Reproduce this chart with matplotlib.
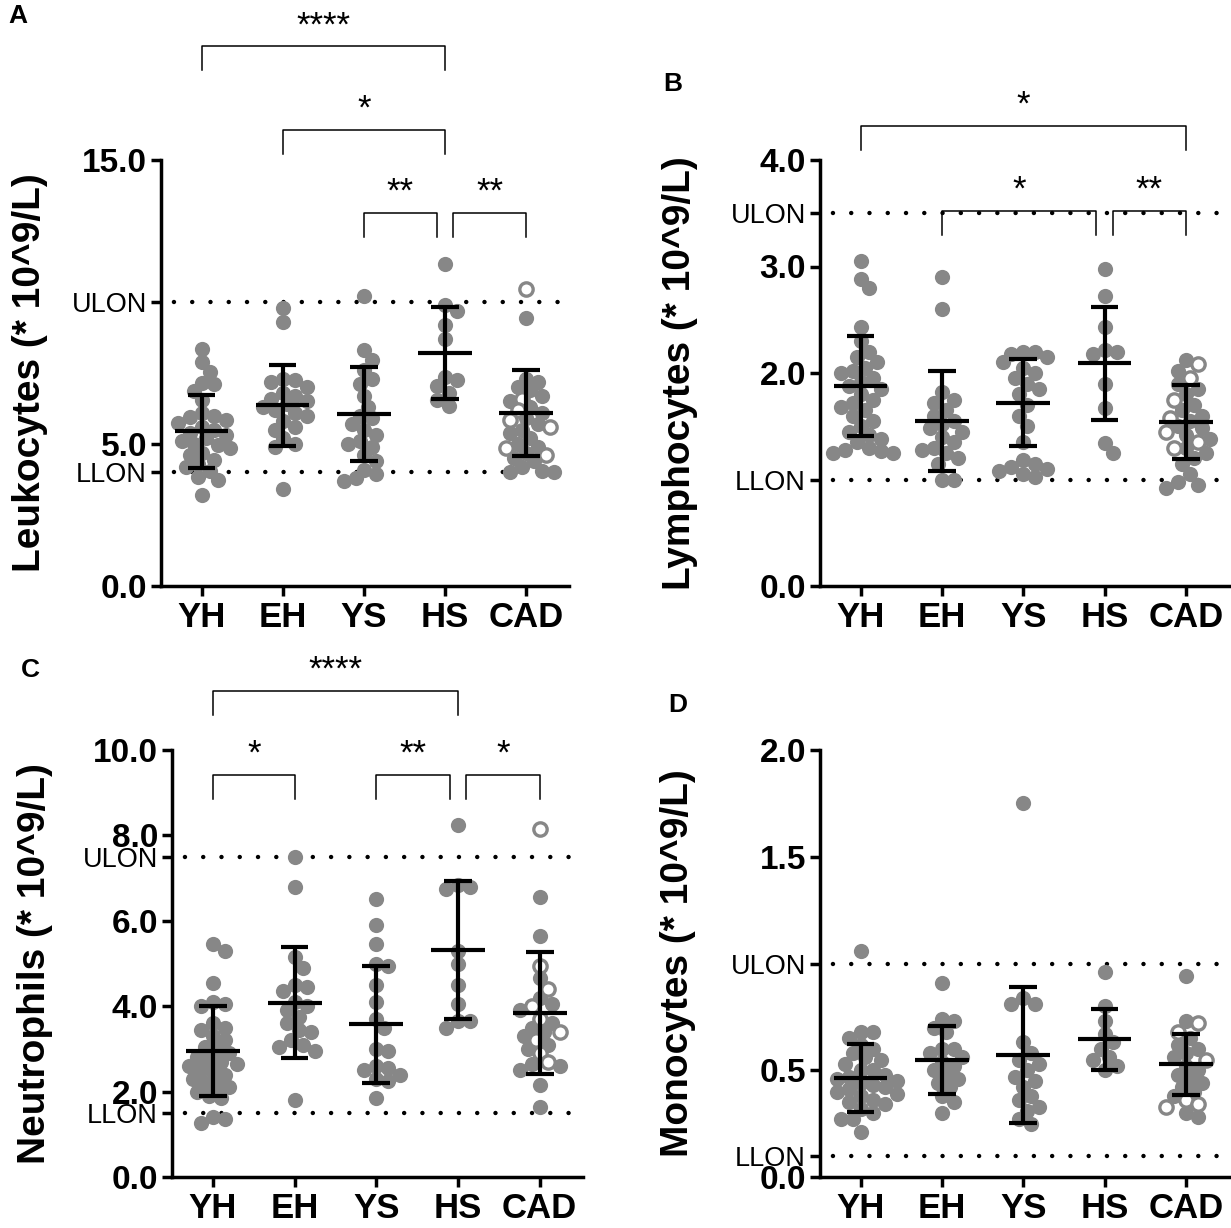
import numpy as np
import matplotlib
matplotlib.use("Agg")
import matplotlib.pyplot as plt

plt.rcParams['font.family'] = ['Liberation Sans', 'DejaVu Sans']

groups = ['YH', 'EH', 'YS', 'HS', 'CAD']

# --- Leukocytes (A) ---
leuko_pts = [
    [8.35, 7.9, 7.55, 7.15, 7.1, 6.85, 6.55, 6.1, 6.0, 5.95, 5.85, 5.75, 5.6, 5.5, 5.4,
     5.3, 5.2, 5.1, 5.0, 4.95, 4.85, 4.7, 4.6, 4.45, 4.3, 4.2, 4.05, 3.85, 3.75, 3.2],
    [9.8, 9.3, 7.3, 7.25, 7.2, 7.0, 6.8, 6.7, 6.6, 6.5, 6.4, 6.3, 6.2, 6.1, 6.0, 5.8,
     5.6, 5.5, 5.2, 5.0, 4.9, 3.4],
    [10.2, 8.3, 7.95, 7.6, 7.3, 7.1, 6.7, 6.3, 6.0, 5.9, 5.7, 5.5, 5.3, 5.1, 5.0, 4.9,
     4.6, 4.4, 4.1, 3.95, 3.8, 3.7],
    [11.35, 9.9, 9.7, 9.2, 8.7, 7.35, 7.25, 7.05, 6.8, 6.55, 6.35],
    [9.45, 7.3, 7.2, 7.0, 6.9, 6.7, 6.5, 6.3, 6.1, 5.9, 5.7, 5.5, 5.4, 5.2, 5.0, 4.9,
     4.7, 4.5, 4.4, 4.2, 4.05, 4.0, 4.0],
]
leuko_open = [10.45, 6.6, 6.2, 5.85, 5.6, 4.85, 4.6]
leuko_mean = [5.45, 6.36, 6.06, 8.22, 6.1]
leuko_sd = [1.28, 1.42, 1.65, 1.62, 1.52]

# --- Lymphocytes (B) ---
lymph_pts = [
    [3.05, 2.88, 2.8, 2.43, 2.3, 2.2, 2.15, 2.1, 2.05, 2.02, 2.0, 1.95, 1.92, 1.88, 1.85,
     1.8, 1.75, 1.72, 1.68, 1.65, 1.6, 1.55, 1.5, 1.45, 1.42, 1.38, 1.35, 1.3, 1.28, 1.27,
     1.25, 1.25],
    [2.9, 2.6, 1.82, 1.75, 1.72, 1.65, 1.6, 1.55, 1.52, 1.48, 1.45, 1.4, 1.35, 1.3, 1.28,
     1.25, 1.2, 1.15, 1.0, 1.0],
    [2.2, 2.2, 2.18, 2.15, 2.1, 2.05, 2.0, 1.95, 1.9, 1.85, 1.8, 1.7, 1.6, 1.5, 1.35,
     1.18, 1.15, 1.12, 1.1, 1.08, 1.05, 1.02],
    [2.98, 2.72, 2.43, 2.22, 2.2, 2.18, 1.9, 1.67, 1.34, 1.25],
    [2.12, 2.02, 1.9, 1.85, 1.8, 1.7, 1.65, 1.6, 1.55, 1.5, 1.48, 1.42, 1.38, 1.3, 1.25,
     1.2, 1.15, 1.05, 0.98, 0.95, 0.92],
]
lymph_open = [2.08, 1.95, 1.75, 1.58, 1.45, 1.35, 1.3]
lymph_mean = [1.88, 1.55, 1.72, 2.09, 1.54]
lymph_sd = [0.47, 0.47, 0.41, 0.53, 0.35]

# --- Neutrophils (C) ---
neutro_pts = [
    [5.45, 5.3, 4.55, 4.1, 4.05, 4.0, 3.6, 3.5, 3.45, 3.3, 3.2, 3.05, 3.0, 2.9, 2.8, 2.75,
     2.7, 2.65, 2.6, 2.5, 2.45, 2.4, 2.3, 2.2, 2.15, 2.1, 2.0, 1.9, 1.85, 1.4, 1.35, 1.27],
    [7.5, 6.8, 5.15, 4.9, 4.5, 4.45, 4.35, 4.1, 4.0, 3.9, 3.75, 3.6, 3.45, 3.4, 3.2, 3.1,
     3.05, 2.95, 1.8],
    [6.5, 5.9, 5.45, 5.0, 4.95, 4.5, 4.1, 3.7, 3.5, 3.0, 2.95, 2.6, 2.55, 2.5, 2.4, 2.3,
     2.25, 1.85],
    [8.25, 6.85, 6.8, 6.75, 5.3, 5.0, 4.5, 4.05, 3.65, 3.65, 3.5],
    [6.55, 5.65, 4.65, 4.2, 4.05, 3.9, 3.6, 3.5, 3.4, 3.3, 3.1, 3.0, 2.65, 2.6, 2.5,
     2.15, 1.65],
]
neutro_open = [8.15, 4.95, 4.4, 4.0, 3.7, 3.4, 3.2, 2.9, 2.7]
neutro_mean = [2.95, 4.08, 3.58, 5.32, 3.84]
neutro_sd = [1.05, 1.3, 1.37, 1.62, 1.42]

# --- Monocytes (D) ---
mono_pts = [
    [1.06, 0.68, 0.68, 0.65, 0.62, 0.6, 0.58, 0.56, 0.55, 0.53, 0.5, 0.5, 0.48, 0.47, 0.46,
     0.45, 0.44, 0.43, 0.42, 0.41, 0.4, 0.39, 0.38, 0.36, 0.35, 0.34, 0.32, 0.3, 0.27,
     0.27, 0.21],
    [0.91, 0.74, 0.73, 0.7, 0.68, 0.6, 0.6, 0.58, 0.56, 0.54, 0.52, 0.5, 0.48, 0.46, 0.44,
     0.42, 0.38, 0.35, 0.3],
    [1.75, 0.84, 0.81, 0.81, 0.63, 0.58, 0.55, 0.53, 0.5, 0.47, 0.45, 0.42, 0.38, 0.36,
     0.33, 0.31, 0.27, 0.25],
    [0.96, 0.8, 0.73, 0.67, 0.63, 0.6, 0.56, 0.55, 0.52, 0.5],
    [0.94, 0.73, 0.65, 0.62, 0.6, 0.58, 0.56, 0.52, 0.5, 0.48, 0.46, 0.44, 0.42, 0.4,
     0.38, 0.3, 0.28],
]
mono_open = [0.72, 0.68, 0.55, 0.36, 0.33, 0.34]
mono_mean = [0.465, 0.548, 0.572, 0.645, 0.527]
mono_sd = [0.16, 0.157, 0.318, 0.143, 0.145]

DOT = '#878787'
W, H = 1231, 1228


def swarm(ax, vals, mind=11.5, step=4.0):
    """Simple beeswarm offsets (in x data units) for one column."""
    p0 = ax.transData.transform((0, 0))
    p1 = ax.transData.transform((1, 1))
    sx, sy = p1[0] - p0[0], p1[1] - p0[1]
    vals = np.asarray(vals)
    offs = np.zeros(len(vals))
    placed = []
    for i in np.argsort(-vals):
        ypx = vals[i] * sy
        k = 0
        while True:
            m = (k + 1) // 2
            cand = 0 if k == 0 else m * step * (1 if k % 2 else -1)
            if all(np.hypot(cand - px, ypx - py) >= mind for px, py in placed):
                break
            k += 1
        placed.append((cand, ypx))
        offs[i] = cand / sx
    return offs


def draw_panel(rect, pts, open_pts, means, sds, ymax, ticks, ticklabels,
               ulon, llon, ylabel, label_x, brackets, letter, letter_xy):
    ax = fig.add_axes(rect)
    ax.set_xlim(-0.5, 4.53)
    ax.set_ylim(0, ymax)
    for s in ['top', 'right']:
        ax.spines[s].set_visible(False)
    for s in ['left', 'bottom']:
        ax.spines[s].set_linewidth(2.5)

    # reference lines
    for v in (ulon, llon):
        ax.plot([-0.5, 4.53], [v, v], color='black', lw=3.2,
                ls=(1.2, (0.01, 4.1)), dash_capstyle='round', zorder=1, clip_on=False)

    # dots
    for i, vals in enumerate(pts):
        allv = list(vals) + (list(open_pts) if i == 4 else [])
        offs = swarm(ax, allv)
        n = len(vals)
        ax.scatter(i + offs[:n], vals, s=120, color=DOT, linewidths=0, zorder=2)
        if i == 4:
            ax.scatter(i + offs[n:], open_pts, s=92, facecolor='white',
                       edgecolor=DOT, linewidths=2.4, zorder=2.5)

    # mean +/- SD
    for i, (m, sd) in enumerate(zip(means, sds)):
        kw = dict(color='black', lw=3.0, zorder=3, solid_capstyle='butt')
        ax.plot([i, i], [m - sd, m + sd], **kw)
        ax.plot([i - 0.17, i + 0.17], [m + sd, m + sd], **kw)
        ax.plot([i - 0.17, i + 0.17], [m - sd, m - sd], **kw)
        ax.plot([i - 0.33, i + 0.33], [m, m], **kw)

    # significance brackets
    ppu = rect[3] * H / ymax
    leg = 24 / ppu
    for x1, x2, y, txt in brackets:
        ax.plot([x1, x1, x2, x2], [y - leg, y, y, y - leg], color='black',
                lw=1.1, clip_on=False, zorder=4)
        ax.annotate(txt, xy=((x1 + x2) / 2, y), xytext=(0, 8),
                    textcoords='offset points', ha='center', va='baseline',
                    fontsize=25, annotation_clip=False)

    ax.set_xticks(range(5))
    ax.set_xticklabels(groups, fontsize=25, fontweight='bold')
    ax.set_yticks(ticks)
    ax.set_yticklabels(ticklabels)
    for t in ax.get_yticklabels():
        if t.get_text() in ('ULON', 'LLON'):
            t.set_fontsize(19.5)
            t.set_fontweight('normal')
        else:
            t.set_fontsize(24)
            t.set_fontweight('bold')
    ax.tick_params(axis='both', width=2.5, length=7, pad=3)
    ax.tick_params(axis='x', pad=4)

    ax.set_ylabel(ylabel, fontsize=28, fontweight='bold', va='center')
    ax.yaxis.set_label_coords(label_x, 0.5)
    fig.text(letter_xy[0] / W, 1 - letter_xy[1] / H, letter, fontsize=19,
             fontweight='bold', ha='center', va='center')
    return ax


fig = plt.figure(figsize=(12.31, 12.28), dpi=100)

draw_panel([161 / W, 1 - 586 / H, 408 / W, 426 / H], leuko_pts, leuko_open,
           leuko_mean, leuko_sd, 15, [0, 4, 5, 10, 15],
           ['0.0', 'LLON', '5.0', 'ULON', '15.0'], 10, 4,
           'Leukocytes (* 10^9/L)', -0.32,
           [(0, 3, 19.0, '****'), (1, 3, 16.06, '*'),
            (2, 2.9, 13.13, '**'), (3.1, 4, 13.13, '**')], 'A', (18, 16))

draw_panel([820 / W, 1 - 586 / H, 409 / W, 426 / H], lymph_pts, lymph_open,
           lymph_mean, lymph_sd, 4, [0, 1, 2, 3, 3.5, 4],
           ['0.0', 'LLON', '2.0', '3.0', 'ULON', '4.0'], 3.5, 1,
           'Lymphocytes (* 10^9/L)', -0.342,
           [(0, 4, 4.32, '*'), (1, 2.9, 3.52, '*'), (3.1, 4, 3.52, '**')],
           'B', (673, 84))

draw_panel([172 / W, 1 - 1177 / H, 411 / W, 427 / H], neutro_pts, neutro_open,
           neutro_mean, neutro_sd, 10, [0, 1.5, 2, 4, 6, 7.5, 8, 10],
           ['0.0', 'LLON', '2.0', '4.0', '6.0', 'ULON', '8.0', '10.0'], 7.5, 1.5,
           'Neutrophils (* 10^9/L)', -0.333,
           [(0, 3, 11.38, '****'), (0, 1, 9.41, '*'),
            (2, 2.9, 9.41, '**'), (3.1, 4, 9.41, '*')], 'C', (30, 670))

draw_panel([820 / W, 1 - 1177 / H, 409 / W, 427 / H], mono_pts, mono_open,
           mono_mean, mono_sd, 2, [0, 0.1, 0.5, 1.0, 1.5, 2.0],
           ['0.0', 'LLON', '0.5', 'ULON', '1.5', '2.0'], 1.0, 0.1,
           'Monocytes (* 10^9/L)', -0.347, [], 'D', (678, 705))

fig.savefig('out.png', dpi=100, facecolor='white')
